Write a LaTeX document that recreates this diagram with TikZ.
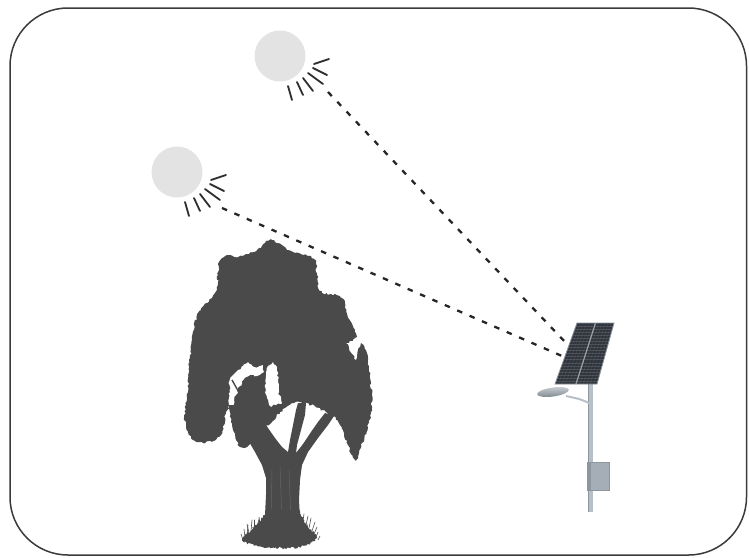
\documentclass[tikz,border=0pt]{standalone}
\usetikzlibrary{decorations.pathmorphing,calc}

\definecolor{treegray}{HTML}{4A4A4A}
\definecolor{sungray}{HTML}{E3E3E3}
\definecolor{raygray}{HTML}{2E2E2E}
\definecolor{panelblue}{HTML}{30343C}
\definecolor{steel}{HTML}{B7C0C8}
\definecolor{steeldark}{HTML}{8D969E}
\definecolor{framegray}{HTML}{3A3A3A}
\definecolor{boxface}{HTML}{A5AEB6}
\definecolor{panelrib}{HTML}{9AA2AA}
\definecolor{panelrim}{HTML}{8A929A}
\definecolor{lamptop}{HTML}{CBD0D5}
\definecolor{lampbottom}{HTML}{7E868D}

\tikzset{
  frameline/.style={draw=framegray, line width=1.5pt, rounded corners=58pt},
  sunray/.style={draw=raygray, line width=1.8pt, line cap=round},
  sundisc/.style={fill=sungray},
  beam/.style={draw=black!85, line width=2.3pt, dash pattern=on 5.5pt off 8pt},
  leafy/.style={decorate, decoration={random steps, segment length=2.2pt, amplitude=1.1pt}},
  tufty/.style={decorate, decoration={random steps, segment length=1.5pt, amplitude=1.3pt}},
  grass/.style={draw=treegray, line width=0.6pt, line cap=round},
  bark/.style={draw=treegray!85!white, line width=0.5pt},
  gridline/.style={draw=white, opacity=0.13, line width=0.3pt},
}

\begin{document}
\begin{tikzpicture}[x=1pt,y=-1pt]
\pgfmathsetseed{7}
\useasboundingbox (0,0) rectangle (749,557);

% rounded frame
\draw[frameline] (10,8) rectangle (746.5,555);

% suns with their rays
\coordinate (sunA) at (280,56);
\coordinate (sunB) at (177,172);
\foreach \s in {sunA,sunB}{
  \fill[sundisc] (\s) circle[radius=25.5pt];
  \begin{scope}[shift={(\s)}]
    \draw[sunray] (34,8) -- (49,3);
    \draw[sunray] (33,12) -- (47,19);
    \draw[sunray] (28,17) -- (43,28);
    \draw[sunray] (23,22) -- (33,35);
    \draw[sunray] (17,26) -- (23,39);
    \draw[sunray] (8,30) -- (12,44);
  \end{scope}
}

% solar panel corners and beam targets
\coordinate (pTL) at (577,323);
\coordinate (pTR) at (614,323);
\coordinate (pBR) at (597,384);
\coordinate (pBL) at (555,384);
\coordinate (beamA) at (328,92);
\coordinate (hitA) at (566,343);
\coordinate (beamB) at (222,208);
\coordinate (hitB) at (562,356);

% sunlight paths
\draw[beam] (beamA) -- (hitA);
\draw[beam] (beamB) -- (hitB);

% tree canopy
\fill[treegray, leafy]
 (262,246)--(266,241)--(272,240)--(277,243)--(282,245)--(288,250)--(295,253)--(303,255)--(311,256)
 --(316,262)--(317,275)--(318,288)--(322,293)--(331,294)--(340,296)--(345,303)--(347,314)--(351,322)
 --(355,330)--(357,337)--(353,341)--(346,343)--(349,348)--(353,355)--(356,360)--(358,350)--(361,343)
 --(366,350)--(368,362)--(370,378)--(372,395)--(371,412)--(368,428)--(363,442)--(359,453)--(356,461)
 --(351,454)--(348,445)--(344,433)--(340,425)--(336,418)--(326,412)--(315,406)--(300,402)--(292,403)
 --(280,412)--(270,424)--(262,428)--(256,436)--(250,444)--(247,447)--(240,447)--(236,440)--(233,430)
 --(231,418)--(229,405)--(226,412)--(224,425)--(221,435)--(214,441)--(203,443)--(195,441)--(189,435)
 --(186,426)--(184,418)--(186,405)--(188,392)--(188,375)--(190,358)--(192,340)--(194,325)--(198,313)
 --(204,305)--(212,298)--(217,290)--(218,275)--(219,262)--(222,258)--(230,255)--(238,257)--(246,254)
 --(254,252)--cycle;

% gaps in the foliage
\fill[white, leafy]
 (229,405)--(230,392)--(229,382)--(233,375)--(238,370)--(243,366)--(248,362)--(252,366)--(258,367)
 --(263,365)--(264,372)--(257,376)--(250,375)--(244,379)--(240,386)--(236,395)--(233,405)--cycle;
\fill[white, leafy]
 (273,362)--(277,367)--(278,380)--(279,392)--(281,404)--(276,405)--(270,406)--(267,398)--(265,385)
 --(266,372)--(268,366)--cycle;
\draw[treegray, line width=1.4pt] (232,380) -- (241,396);

% trunk and branches
\fill[treegray]
 (255,542)--(262,532)--(265,515)--(266,495)--(266,478)--(262,465)--(255,452)--(248,440)--(244,430)
 --(252,420)--(262,418)--(268,428)--(275,438)--(282,447)--(288,452)--(290,440)--(293,425)--(296,410)
 --(298,403)--(306,403)--(305,415)--(301,430)--(297,445)--(296,453)--(303,444)--(311,432)--(318,422)
 --(325,413)--(334,416)--(328,425)--(318,438)--(308,452)--(302,465)--(300,480)--(299,500)--(300,518)
 --(304,530)--(312,542)--cycle;
\draw[bark] (272,470) -- (271,524);
\draw[bark] (280,466) -- (282,524);
\draw[bark] (289,470) -- (291,522);

% grassy mound at the foot of the trunk
\fill[treegray, tufty] (242,540) .. controls (250,528) and (262,522) .. (267,510) -- (299,510)
  .. controls (302,522) and (312,528) .. (317,538) .. controls (310,546) and (300,548) .. (285,548)
  .. controls (265,548) and (250,546) .. (242,540) -- cycle;
\foreach \x/\y/\dx/\h in {243/540/-2/6, 245/537/-1/8, 247/535/1/10, 249/533/-2/9, 251/531/1/11,
                          254/529/0/9, 257/527/2/8, 260/524/-1/7, 263/521/1/6,
                          303/521/1/7, 306/525/2/9, 309/528/2/10, 312/531/3/9, 314/534/3/7,
                          316/537/2/5, 318/540/2/4}
  \draw[grass] (\x,\y) -- ++(\dx,-\h);

% lamp pole
\fill[steel] (588.5,378) rectangle (592.5,512);
\draw[steeldark, line width=0.5pt] (588.7,378) -- (588.7,512);

% lamp arm and head
\draw[steel, line width=2pt] (589,403) .. controls (580,399) .. (566,396);
\shade[top color=lamptop, bottom color=lampbottom, rotate around={8:(553,392)}]
  (553,392) ellipse[x radius=16pt, y radius=4.5pt];

% battery box
\fill[boxface] (587,462) rectangle (609,490);
\fill[steeldark] (587,462) rectangle (591,490);
\draw[steeldark, line width=0.5pt] (587,462) rectangle (609,490);

% solar panel
\fill[panelblue] (pTL) -- (pTR) -- (pBR) -- (pBL) -- cycle;
\foreach \t in {0.05,0.1,...,0.96}
  \draw[gridline] ($(pTL)!\t!(pBL)$) -- ($(pTR)!\t!(pBR)$);
\foreach \t in {0.083,0.167,...,0.96}
  \draw[gridline] ($(pTL)!\t!(pTR)$) -- ($(pBL)!\t!(pBR)$);
\draw[panelrib, line width=1.2pt] ($(pTL)!0.5!(pTR)$) -- ($(pBL)!0.5!(pBR)$);
\draw[panelrim, line width=0.8pt] (pTL) -- (pTR) -- (pBR) -- (pBL) -- cycle;
\end{tikzpicture}
\end{document}
